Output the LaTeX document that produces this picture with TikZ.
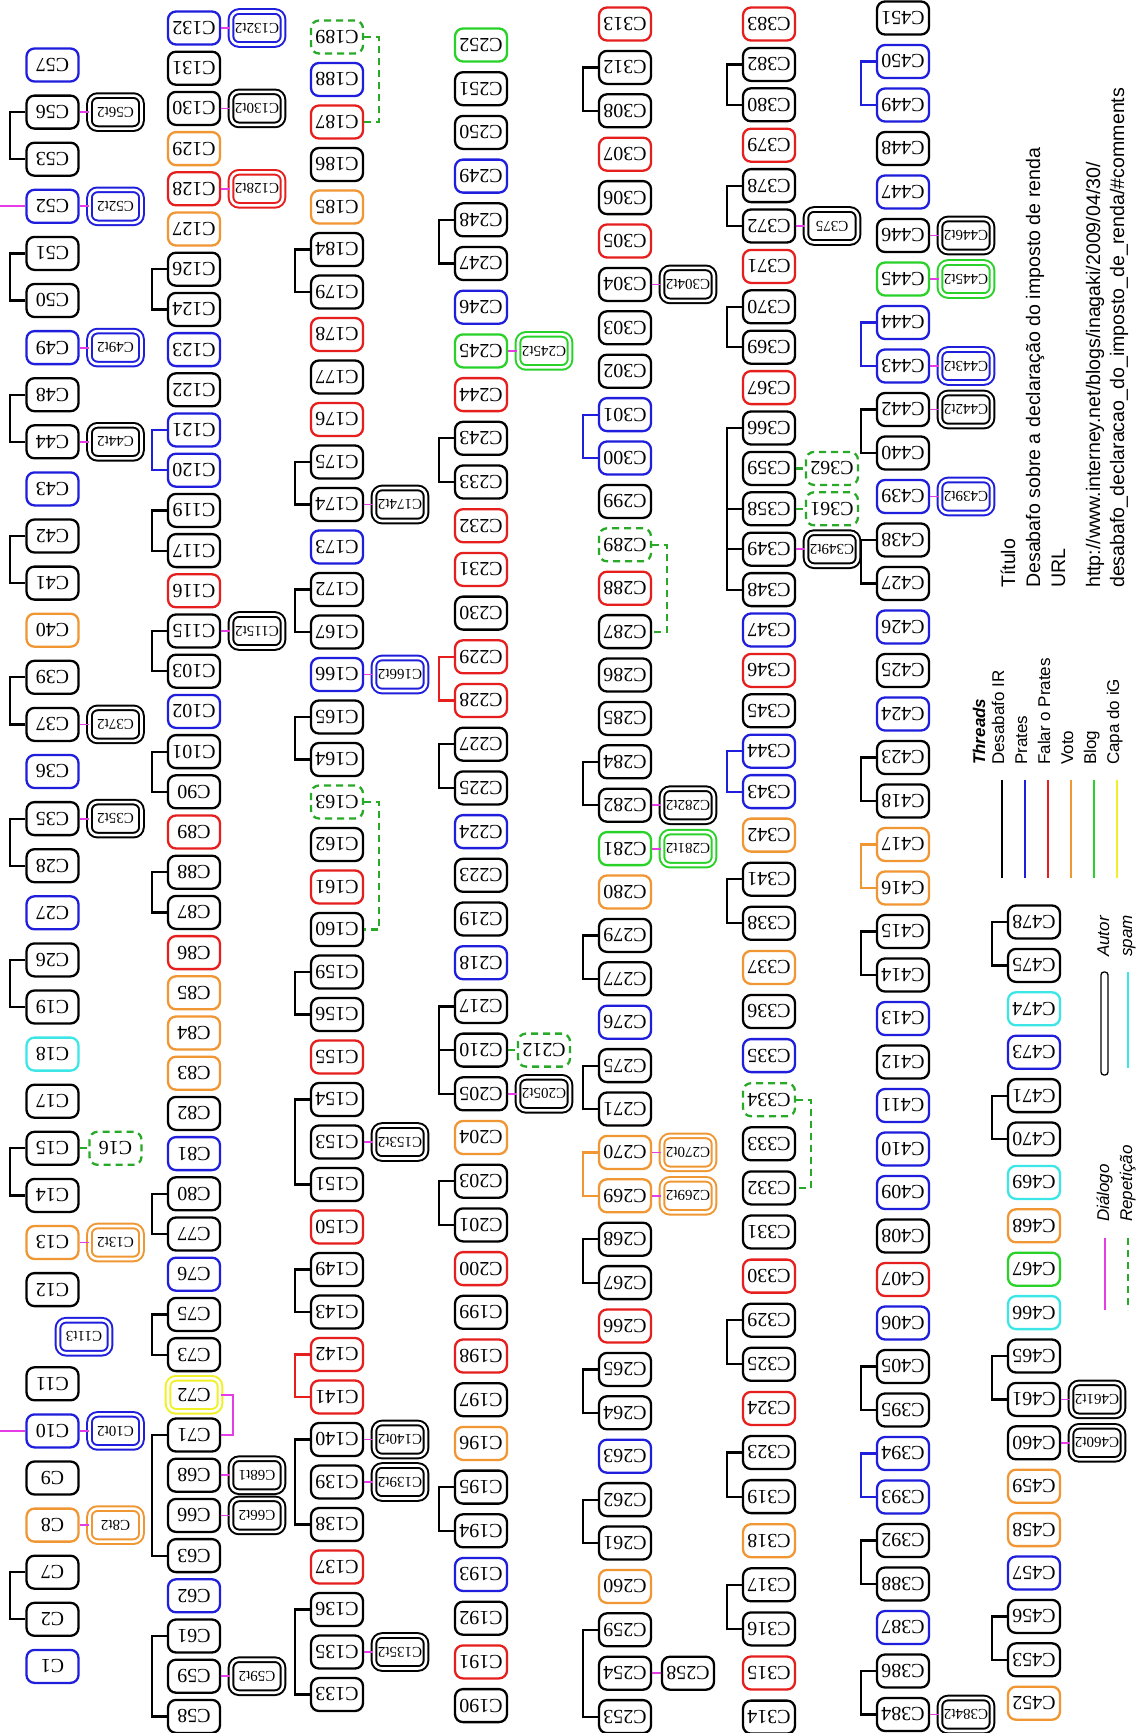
\documentclass[tikz,border=0pt]{standalone}
\usepackage{fontspec}
\setmainfont{Liberation Serif}
\newfontfamily\sansf{Liberation Sans}
\usetikzlibrary{calc}
\definecolor{colK}{RGB}{0,0,0}
\definecolor{colB}{RGB}{30,30,220}
\definecolor{colR}{RGB}{230,30,30}
\definecolor{colO}{RGB}{240,150,50}
\definecolor{colG}{RGB}{40,210,40}
\definecolor{colY}{RGB}{240,240,40}
\definecolor{colC}{RGB}{60,230,230}
\definecolor{colP}{RGB}{230,60,230}
\definecolor{colD}{RGB}{40,170,40}
\newcommand\R[1]{\rotatebox[origin=c]{180}{#1}}
\tikzset{
  base/.style={line width=2.3pt, rounded corners=8pt, minimum width=52pt,
    minimum height=33pt, inner sep=0pt, font=\fontsize{20}{20}\selectfont},
  nK/.style={base, draw=colK}, nB/.style={base, draw=colB},
  nR/.style={base, draw=colR}, nO/.style={base, draw=colO},
  nG/.style={base, draw=colG}, nY/.style={base, draw=colY},
  nC/.style={base, draw=colC},
  nD/.style={base, draw=colD, dash pattern=on 7pt off 5pt},
  aut/.style={base, draw=#1, double=white, double distance=2.6pt, line width=2pt,
    font=\fontsize{15}{15}\selectfont},
  thr/.style={draw=#1, line width=2.2pt},
  dlg/.style={draw=colP, line width=1.8pt},
  rpt/.style={draw=colD, line width=2.2pt, dash pattern=on 7pt off 5pt},
  leg/.style={rotate=90, anchor=base west, inner sep=0pt,
    font=\sansf\fontsize{17}{17}\selectfont},
}
% author reply next to a comment
\newcommand\au[3]{\node[aut=col#2] (#1a) at ($(#1)+(63,0)$) {\R{#3}};
  \draw[dlg] (#1.east) -- (#1a.west);}
% repeated comment next to the original
\newcommand\rp[2]{\node[nD] (#2) at ($(#1)+(63,0)$) {\R{#2}};
  \draw[rpt] (#1.east) -- (#2.west);}
% thread bracket on the left of a column
\newcommand\br[3]{\draw[thr=col#1] (#2.west) -- ++(-15,0) |- (#3.west);}
\newcommand\stub[2]{\draw[thr=col#1] (#2.west) -- ++(-15,0);}
% repetition link on the right of a column
\newcommand\rl[2]{\draw[rpt] (#1.east) -- ++(15,0) |- (#2.east);}
\begin{document}
\begin{tikzpicture}[x=1pt,y=-1pt]
\fill[white] (0,0) rectangle (1147,1733);
\useasboundingbox (0,0) rectangle (1147,1733);
\coordinate (edgeL) at (0,0);

% column 1
\foreach \nm/\c [count=\i from 0] in {C57/B,C56/K,C53/K,C52/B,C51/K,C50/K,C49/B,C48/K,C44/K,C43/B,C42/K,C41/K,C40/O,C39/K,C37/K,C36/B,C35/K,C28/K,C27/B,C26/K,C19/K,C18/C,C17/K,C15/K,C14/K,C13/O,C12/K}
  \node[n\c] (\nm) at (52.5,65+\i*47.1) {\R{\nm}};
\node[aut=colB] (C11t3) at (84,65+27*47.1) {\R{C11t3}};
\foreach \nm/\c [count=\i from 28] in {C11/K,C10/B,C9/K,C8/O,C7/K,C2/K,C1/B}
  \node[n\c] (\nm) at (52.5,65+\i*47.1) {\R{\nm}};
% column 2
\foreach \nm/\c [count=\i from 0] in {C132/B,C131/K,C130/K,C129/O,C128/R,C127/O,C126/K,C124/K,C123/B,C122/K,C121/B,C120/B,C119/K,C117/K,C116/R,C115/K,C103/K,C102/B,C101/K,C90/K,C89/R,C88/K,C87/K,C86/R,C85/O,C84/O,C83/O,C82/K,C81/B,C80/K,C77/K,C76/B,C75/K,C73/K}
  \node[n\c] (\nm) at (194,28+\i*40.2) {\R{\nm}};
\node[aut=colY, font=\fontsize{20}{20}\selectfont] (C72) at (194,28+34*40.2) {\R{C72}};
\foreach \nm/\c [count=\i from 35] in {C71/K,C68/K,C66/K,C63/K,C62/B,C61/K,C59/K,C58/K}
  \node[n\c] (\nm) at (194,28+\i*40.2) {\R{\nm}};
% column 3
\foreach \nm/\c [count=\i from 0] in {C189/D,C188/B,C187/R,C186/K,C185/O,C184/K,C179/K,C178/R,C177/K,C176/R,C175/K,C174/K,C173/B,C172/K,C167/K,C166/B,C165/K,C164/K,C163/D,C162/K,C161/R,C160/K,C159/K,C156/K,C155/R,C154/K,C153/K,C151/K,C150/R,C149/K,C143/K,C142/R,C141/R,C140/K,C139/K,C138/K,C137/R,C136/K,C135/K,C133/K}
  \node[n\c] (\nm) at (337,37+\i*42.5) {\R{\nm}};
% column 4
\foreach \nm/\c [count=\i from 0] in {C252/G,C251/K,C250/K,C249/B,C248/K,C247/K,C246/B,C245/G,C244/R,C243/K,C233/K,C232/R,C231/R,C230/K,C229/R,C228/R,C227/K,C225/K,C224/B,C223/K,C219/K,C218/B,C217/K,C210/K,C205/K,C204/O,C203/K,C201/K,C200/R,C199/K,C198/R,C197/K,C196/O,C195/K,C194/K,C193/B,C192/K,C191/R,C190/K}
  \node[n\c] (\nm) at (481,45+\i*43.7) {\R{\nm}};
% column 5
\foreach \nm/\c [count=\i from 0] in {C313/R,C312/K,C308/K,C307/R,C306/K,C305/R,C304/K,C303/K,C302/K,C301/B,C300/B,C299/K,C289/D,C288/R,C287/K,C286/K,C285/K,C284/K,C282/K,C281/G,C280/O,C279/K,C277/K,C276/B,C275/K,C271/K,C270/O,C269/O,C268/K,C267/K,C266/R,C265/K,C264/K,C263/B,C262/K,C261/K,C260/O,C259/K,C254/K,C253/K}
  \node[n\c] (\nm) at (625,24+\i*43.4) {\R{\nm}};
% column 6
\foreach \nm/\c [count=\i from 0] in {C383/R,C382/K,C380/K,C379/R,C378/K,C372/K,C371/R,C370/K,C369/K,C367/R,C366/K,C359/K,C358/K,C349/K,C348/K,C347/B,C346/R,C345/K,C344/B,C343/B,C342/O,C341/K,C338/K,C337/O,C336/K,C335/B,C334/D,C333/K,C332/K,C331/K,C330/R,C329/K,C325/K,C324/R,C323/K,C319/K,C318/O,C317/K,C316/K,C315/R,C314/K} {
  \pgfmathsetmacro\yy{\i<20 ? 24+\i*40.4 : 791+(\i-19)*44.1}
  \node[n\c] (\nm) at (769,\yy) {\R{\nm}};
}
% column 7
\foreach \nm/\c [count=\i from 0] in {C451/K,C450/B,C449/B,C448/K,C447/B,C446/K,C445/G,C444/B,C443/B,C442/K,C440/K,C439/B,C438/K,C427/K,C426/B,C425/K,C424/B,C423/K,C418/K,C417/O,C416/O,C415/K,C414/K,C413/B,C412/K,C411/B,C410/B,C409/B,C408/K,C407/R,C406/B,C405/K,C395/K,C394/B,C393/B,C392/K,C388/K,C387/B,C386/K,C384/K}
  \node[n\c] (\nm) at (903,18+\i*43.5) {\R{\nm}};
% column 8
\foreach \nm/\c [count=\i from 0] in {C478/K,C475/K,C474/C,C473/B,C471/K,C470/K,C469/C,C468/O,C467/G,C466/C,C465/K,C461/K,C460/K,C459/O,C458/O,C457/B,C456/K,C453/K,C452/O}
  \node[n\c] (\nm) at (1034,922+\i*43.4) {\R{\nm}};

% author replies
\au{C56}{K}{C56t2} \au{C52}{B}{C52t2} \au{C49}{B}{C49t2} \au{C44}{K}{C44t2}
\au{C37}{K}{C37t2} \au{C35}{K}{C35t2} \au{C13}{O}{C13t2}
\au{C10}{B}{C10t2} \au{C8}{O}{C8t2}
\au{C132}{B}{C132t2} \au{C130}{K}{C130t2} \au{C128}{R}{C128t2} \au{C115}{K}{C115t2}
\au{C68}{K}{C68t1} \au{C66}{K}{C66t2} \au{C59}{K}{C59t2}
\au{C174}{K}{C174t2} \au{C166}{B}{C166t2} \au{C153}{K}{C153t2}
\au{C140}{K}{C140t2} \au{C139}{K}{C139t2} \au{C135}{K}{C135t2}
\au{C245}{G}{C245t2} \au{C205}{K}{C205t2}
\au{C304}{K}{C304t2} \au{C282}{K}{C282t2} \au{C281}{G}{C281t2}
\au{C270}{O}{C270t2} \au{C269}{O}{C269t2}
\au{C372}{K}{C375} \au{C349}{K}{C349t2}
\au{C446}{K}{C446t2} \au{C445}{G}{C445t2} \au{C443}{B}{C443t2}
\au{C442}{K}{C442t2} \au{C439}{B}{C439t2} \au{C384}{K}{C384t2}
\au{C461}{K}{C461t2} \au{C460}{K}{C460t2}
\node[nK] (C258) at ($(C254)+(63,0)$) {\R{C258}};
\draw[dlg] (C254.east) -- (C258.west);

% repeated comments
\rp{C15}{C16} \rp{C210}{C212} \rp{C358}{C361} \rp{C359}{C362}
\rl{C189}{C187} \rl{C163}{C160} \rl{C289}{C287} \rl{C334}{C332}

% dialogue links
\draw[dlg] (C72.east) -- ++(12,0) |- (C71.east);
\draw[dlg] (C10.west) -- (C10.west -| edgeL);
\draw[dlg] (C52.west) -- (C52.west -| edgeL);

% threads
\br{K}{C56}{C53} \br{K}{C51}{C50} \br{K}{C48}{C44}
\br{K}{C42}{C41} \br{K}{C39}{C37} \br{K}{C35}{C28} \br{K}{C26}{C19}
\br{K}{C15}{C14} \br{K}{C7}{C2}
\br{K}{C126}{C124} \br{B}{C121}{C120} \br{K}{C119}{C117} \br{K}{C115}{C103}
\br{K}{C101}{C90} \br{K}{C88}{C87} \br{K}{C80}{C77} \br{K}{C75}{C73}
\br{K}{C71}{C63} \br{K}{C61}{C58}
\br{K}{C184}{C179} \br{K}{C175}{C174} \br{K}{C172}{C167} \br{K}{C165}{C164}
\br{K}{C159}{C156} \br{K}{C154}{C151} \br{K}{C149}{C143} \br{R}{C142}{C141}
\br{K}{C140}{C138} \br{K}{C136}{C133}
\br{K}{C248}{C247} \br{K}{C243}{C233} \br{R}{C229}{C228} \br{K}{C227}{C225}
\br{K}{C217}{C205} \stub{K}{C210} \br{K}{C203}{C201} \br{K}{C195}{C194}
\br{K}{C312}{C308} \br{B}{C301}{C300} \br{K}{C284}{C282} \br{K}{C279}{C277}
\br{K}{C275}{C271} \br{O}{C270}{C269} \br{K}{C268}{C267} \br{K}{C265}{C264}
\br{K}{C262}{C261} \br{K}{C259}{C253}
\br{K}{C382}{C380} \br{K}{C378}{C372} \br{K}{C370}{C369} \br{K}{C366}{C348}
\stub{K}{C358} \stub{K}{C349} \br{B}{C344}{C343} \br{K}{C341}{C338}
\br{K}{C329}{C325} \br{K}{C323}{C319} \br{K}{C317}{C316}
\br{B}{C450}{C449} \br{B}{C444}{C443} \br{K}{C442}{C440} \br{K}{C438}{C427}
\br{K}{C423}{C418} \br{O}{C417}{C416} \br{K}{C415}{C414} \br{K}{C405}{C395}
\br{B}{C394}{C393} \br{K}{C392}{C388} \br{K}{C386}{C384}
\br{K}{C478}{C475} \br{K}{C471}{C470} \br{K}{C465}{C461} \br{K}{C456}{C453}

% legend: threads
\node[leg, font=\sansf\bfseries\itshape\fontsize{17}{17}\selectfont] (thtitle) at (985,765) {Threads};
\foreach \c/\t [count=\i from 0] in {K/Desabafo IR,B/Prates,R/Falar o Prates,O/Voto,G/Blog,Y/Capa do iG} {
  \draw[col\c, line width=2pt] (1002+\i*23,780) -- (1002+\i*23,878);
  \node[leg] (lg\i) at (1004+\i*23,765) {\t};
}
% legend: author and spam
\draw[line width=1.3pt, rounded corners=3pt] (1101,972) rectangle (1108,1075);
\draw[colC, line width=2pt] (1128,972) -- (1128,1068);
\node[leg, font=\sansf\itshape\fontsize{17}{17}\selectfont] (lautor) at (1109,957) {Autor};
\node[leg, font=\sansf\itshape\fontsize{17}{17}\selectfont] (lspam) at (1132,957) {spam};
% legend: dialogue and repetition
\draw[dlg, line width=2pt] (1105,1238) -- (1105,1310);
\draw[rpt] (1128,1238) -- (1128,1310);
\node[leg, font=\sansf\itshape\fontsize{17}{17}\selectfont] (ldlg) at (1109,1222) {Diálogo};
\node[leg, font=\sansf\itshape\fontsize{17}{17}\selectfont] (lrep) at (1132,1222) {Repetição};
% title block
\begin{scope}[every node/.style={leg, font=\sansf\fontsize{19.6}{19.6}\selectfont}]
\node (t1) at (1015,588) {Título};
\node (t2) at (1040,588) {Desabafo sobre a declaração do imposto de renda};
\node (t3) at (1065,588) {URL};
\node (t4) at (1100,588) {http://www.interney.net/blogs/inagaki/2009/04/30/};
\node (t5) at (1124,588) {desabafo\_declaracao\_do\_imposto\_de\_renda/\#comments};
\end{scope}
\end{tikzpicture}
\end{document}
